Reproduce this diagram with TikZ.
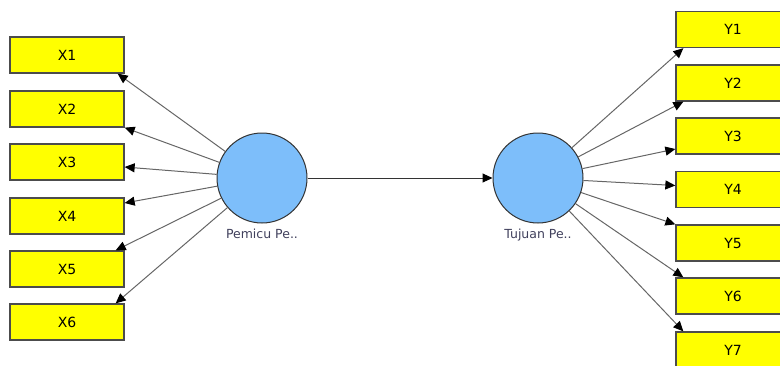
\documentclass[tikz,border=0pt]{standalone}
\usepackage{fontspec}
\setmainfont{DejaVu Sans}
\usetikzlibrary{arrows.meta}
\definecolor{indyellow}{RGB}{255,255,0}
\definecolor{lvblue}{RGB}{125,190,250}
\definecolor{lvtext}{RGB}{64,64,92}

\begin{document}
\begin{tikzpicture}[x=1pt,y=-1pt,
    ind/.style={draw=black!70,line width=1.3pt,fill=indyellow,minimum width=114pt,minimum height=36pt,inner sep=0pt,font=\fontsize{14}{16}\selectfont},
    lv/.style={circle,draw=black!80,line width=1pt,fill=lvblue,minimum size=90pt,inner sep=0pt},
    lvlabel/.style={font=\fontsize{12.5}{15}\selectfont,text=lvtext,label distance=1.5pt},
    load/.style={draw=black!60,line width=1pt,-{Triangle[length=10pt,width=9pt,color=black]}}]
    \clip (0,0) rectangle (780,365);

    % Indicators
    \foreach \i/\y in {1/55,2/109,3/162,4/216,5/269,6/322}
        \node[ind] (x\i) at (67,\y) {X\i};
    \foreach \i/\y in {1/29.5,2/83,3/136,4/189.5,5/243,6/296,7/350}
        \node[ind] (y\i) at (733,\y) {Y\i};

    % Latent variables
    \node[lv,label={[lvlabel]below:Pemicu Pe..}] (pp) at (262,178) {};
    \node[lv,label={[lvlabel]below:Tujuan Pe..}] (tp) at (538,178) {};

    % Path
    \draw[draw=black!80,line width=1pt,-{Triangle[length=10pt,width=9pt,color=black]}] (pp) -- (tp);

    % Outer loadings, left
    \draw[load] (pp) -- ([xshift=-7pt]x1.south east);
    \draw[load] (pp) -- (x2.south east);
    \draw[load] (pp) -- ([yshift=-5pt]x3.east);
    \draw[load] (pp) -- ([yshift=13pt]x4.east);
    \draw[load] (pp) -- ([xshift=-9pt]x5.north east);
    \draw[load] (pp) -- ([xshift=-9pt]x6.north east);

    % Outer loadings, right
    \draw[load] (tp) -- ([xshift=8pt]y1.south west);
    \draw[load] (tp) -- ([xshift=8pt]y2.south west);
    \draw[load] (tp) -- ([yshift=-13pt]y3.west);
    \draw[load] (tp) -- ([yshift=4pt]y4.west);
    \draw[load] (tp) -- (y5.north west);
    \draw[load] (tp) -- ([xshift=8pt]y6.north west);
    \draw[load] (tp) -- ([xshift=8pt]y7.north west);
\end{tikzpicture}
\end{document}
